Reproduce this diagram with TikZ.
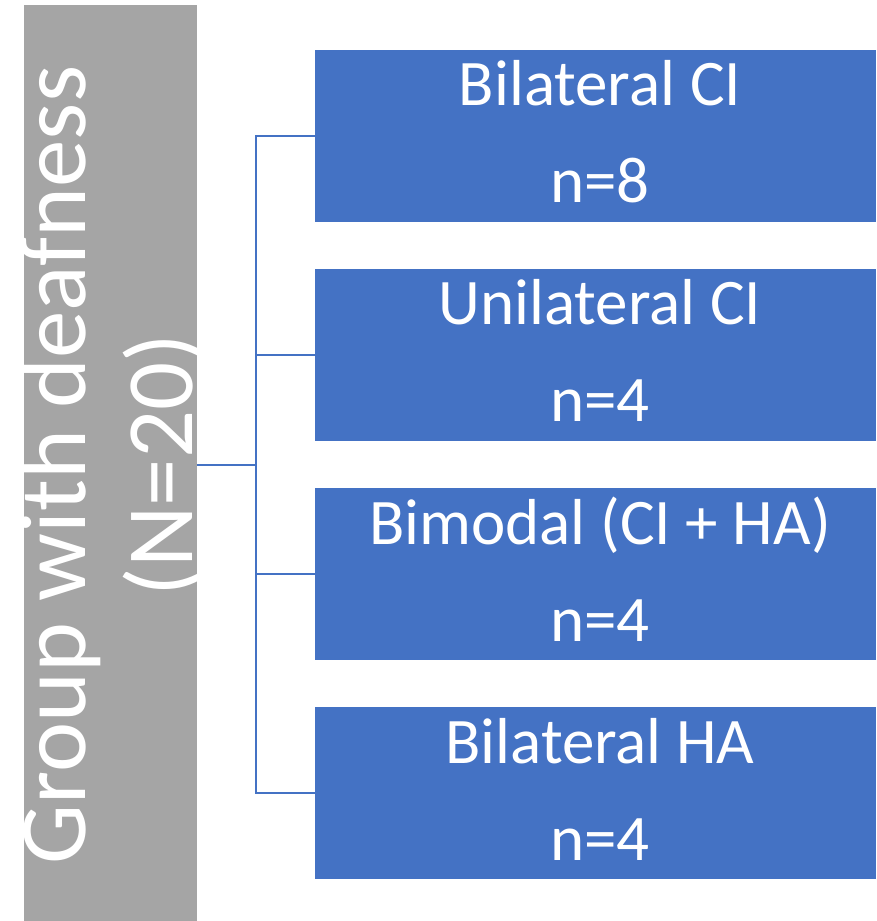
\documentclass[tikz,border=0pt]{standalone}
\usepackage{fontspec}
\setmainfont{Carlito}
\definecolor{boxblue}{HTML}{4472C4}
\definecolor{boxgray}{HTML}{A5A5A5}
\begin{document}
\begin{tikzpicture}[x=1pt,y=1pt,
  leaf/.style={fill=boxblue, draw=none, minimum width=561pt, minimum height=172pt, inner sep=0pt, anchor=west},
  lbl/.style={text=white, font=\fontsize{65}{65}\selectfont, anchor=base, inner sep=0pt},
  vlbl/.style={text=white, font=\fontsize{95}{95}\selectfont, anchor=base, inner sep=0pt, rotate=90},
  link/.style={draw=boxblue, line width=2pt}]
\useasboundingbox (0,0) rectangle (876,921);
\node[fill=boxgray, minimum width=173pt, minimum height=916pt, inner sep=0pt, anchor=south west] (root) at (24,0) {};
\node[vlbl] (rt1) at (85,456) {Group with deafness};
\node[vlbl] (rt2) at (192,456) {(N=20)};
\node[leaf] (b1) at (315,785) {};
\node[leaf] (b2) at (315,566) {};
\node[leaf] (b3) at (315,346.5) {};
\node[leaf] (b4) at (315,127.5) {};
\node[lbl] (l1a) at (600,815) {Bilateral CI};
\node[lbl] (l1b) at (600,718) {n=8};
\node[lbl] (l2a) at (600,596) {Unilateral CI};
\node[lbl] (l2b) at (600,499) {n=4};
\node[lbl] (l3a) at (600,376.5) {Bimodal (CI + HA)};
\node[lbl] (l3b) at (600,279.5) {n=4};
\node[lbl] (l4a) at (600,157.5) {Bilateral HA};
\node[lbl] (l4b) at (600,60.5) {n=4};
\coordinate (hub) at (256,456);
\draw[link] (root.east |- hub) -- (hub);
\draw[link] (b1.west) -- (b1.west -| hub) -- (b4.west -| hub) -- (b4.west);
\draw[link] (b2.west -| hub) -- (b2.west);
\draw[link] (b3.west -| hub) -- (b3.west);
\end{tikzpicture}
\end{document}
